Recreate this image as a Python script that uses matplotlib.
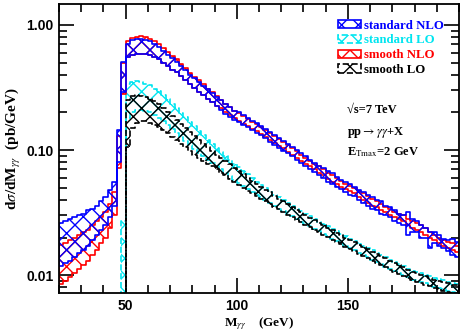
import numpy as np
import matplotlib
matplotlib.use("Agg")
import matplotlib.pyplot as plt
from matplotlib.patches import Patch
from matplotlib.ticker import FixedLocator, NullFormatter, LogLocator

plt.rcParams['hatch.linewidth'] = 1.0
plt.rcParams['mathtext.fontset'] = 'stix'

# ---- data: 2 GeV bins from 20 to 200 GeV ----
bin_edges = np.arange(20, 202, 2)

std_nlo_hi = [0.026, 0.027, 0.028, 0.029, 0.030, 0.031, 0.033, 0.034, 0.036, 0.039, 0.042, 0.048, 0.056, 0.145,
              0.51,
              0.70, 0.76, 0.77, 0.77, 0.76, 0.74, 0.71, 0.67, 0.62, 0.58, 0.54, 0.51, 0.47, 0.44, 0.40,
              0.375, 0.35, 0.325, 0.305, 0.285, 0.265, 0.25, 0.235, 0.22, 0.205, 0.20, 0.19, 0.18, 0.172, 0.165,
              0.156, 0.147, 0.139, 0.132, 0.124, 0.118, 0.111, 0.105, 0.10, 0.094, 0.089, 0.084, 0.079, 0.075, 0.072,
              0.068, 0.065, 0.061, 0.058, 0.056, 0.054, 0.051, 0.048, 0.046, 0.044, 0.042, 0.040, 0.039, 0.036, 0.035,
              0.033, 0.031, 0.030, 0.032, 0.028, 0.027, 0.025, 0.024, 0.022, 0.022, 0.021, 0.0195, 0.019, 0.0195, 0.0185]
std_nlo_lo = [0.0118, 0.0125, 0.013, 0.014, 0.015, 0.016, 0.017, 0.019, 0.021, 0.023, 0.025, 0.029, 0.036, 0.080,
              0.29,
              0.55, 0.58, 0.59, 0.59, 0.585, 0.57, 0.55, 0.53, 0.50, 0.47, 0.44, 0.42, 0.39, 0.36, 0.34,
              0.315, 0.29, 0.275, 0.255, 0.24, 0.225, 0.21, 0.195, 0.185, 0.175, 0.168, 0.16, 0.152, 0.145, 0.138,
              0.131, 0.125, 0.117, 0.11, 0.104, 0.098, 0.094, 0.089, 0.084, 0.079, 0.074, 0.071, 0.067, 0.063, 0.060,
              0.056, 0.054, 0.051, 0.049, 0.046, 0.044, 0.043, 0.040, 0.038, 0.036, 0.034, 0.033, 0.031, 0.030, 0.029,
              0.027, 0.026, 0.025, 0.021, 0.022, 0.022, 0.020, 0.020, 0.0165, 0.018, 0.017, 0.0165, 0.0155, 0.0145, 0.014]

smooth_nlo_hi = [0.0175, 0.018, 0.019, 0.020, 0.021, 0.022, 0.023, 0.025, 0.027, 0.029, 0.032, 0.037, 0.046, 0.130,
                 0.50,
                 0.74, 0.79, 0.80, 0.81, 0.80, 0.77, 0.74, 0.70, 0.65, 0.61, 0.56, 0.53, 0.49, 0.455, 0.415,
                 0.385, 0.36, 0.335, 0.31, 0.29, 0.27, 0.25, 0.235, 0.22, 0.205, 0.196, 0.186, 0.177, 0.168, 0.161,
                 0.152, 0.144, 0.136, 0.129, 0.122, 0.115, 0.109, 0.103, 0.098, 0.092, 0.087, 0.082, 0.078, 0.074, 0.070,
                 0.066, 0.063, 0.060, 0.057, 0.054, 0.052, 0.050, 0.047, 0.045, 0.043, 0.041, 0.039, 0.037, 0.035, 0.034,
                 0.032, 0.031, 0.030, 0.028, 0.027, 0.026, 0.025, 0.024, 0.022, 0.021, 0.020, 0.019, 0.0185, 0.018, 0.017]
smooth_nlo_lo = [0.0085, 0.009, 0.0097, 0.0105, 0.0113, 0.012, 0.013, 0.0145, 0.016, 0.018, 0.020, 0.024, 0.030, 0.072,
                 0.28,
                 0.55, 0.58, 0.59, 0.59, 0.585, 0.57, 0.55, 0.53, 0.50, 0.47, 0.44, 0.42, 0.39, 0.36, 0.34,
                 0.315, 0.29, 0.275, 0.255, 0.24, 0.225, 0.215, 0.20, 0.19, 0.18, 0.172, 0.163, 0.155, 0.148, 0.141,
                 0.134, 0.127, 0.12, 0.114, 0.108, 0.103, 0.097, 0.092, 0.087, 0.082, 0.078, 0.074, 0.070, 0.066, 0.063,
                 0.059, 0.056, 0.054, 0.051, 0.049, 0.047, 0.045, 0.042, 0.040, 0.038, 0.036, 0.035, 0.033, 0.032, 0.030,
                 0.029, 0.028, 0.027, 0.025, 0.024, 0.023, 0.022, 0.021, 0.020, 0.019, 0.018, 0.0172, 0.0165, 0.016, 0.0152]

std_lo_hi = [1e-4] * 14 + [0.027,
             0.34, 0.35, 0.355, 0.35, 0.34, 0.33, 0.31, 0.295, 0.275, 0.255, 0.235, 0.215, 0.198, 0.183, 0.168,
             0.155, 0.142, 0.131, 0.121, 0.112, 0.104, 0.097, 0.090, 0.084, 0.078, 0.073, 0.068, 0.064, 0.060, 0.056,
             0.053, 0.050, 0.047, 0.044, 0.042, 0.040, 0.038, 0.036, 0.034, 0.0325, 0.031, 0.0295, 0.028, 0.0268, 0.0256,
             0.0245, 0.0234, 0.0224, 0.0214, 0.0205, 0.0196, 0.0188, 0.018, 0.0172, 0.0165, 0.0158, 0.0151, 0.0145, 0.0139,
             0.0133, 0.0128, 0.0123, 0.0118, 0.0113, 0.0109, 0.0107, 0.0104, 0.0101, 0.0098, 0.0095, 0.0093, 0.0091, 0.0089,
             0.0087, 0.0085]
std_lo_lo = [1e-4] * 14 + [0.004,
             0.18, 0.20, 0.21, 0.21, 0.205, 0.20, 0.19, 0.18, 0.17, 0.158, 0.147, 0.137, 0.127, 0.118, 0.110,
             0.102, 0.095, 0.089, 0.084, 0.079, 0.074, 0.070, 0.066, 0.062, 0.058, 0.055, 0.052, 0.049, 0.046, 0.044,
             0.042, 0.040, 0.038, 0.036, 0.034, 0.0325, 0.031, 0.0295, 0.028, 0.0268, 0.0256, 0.0245, 0.0234, 0.0224, 0.0214,
             0.0205, 0.0196, 0.0188, 0.018, 0.0172, 0.0165, 0.0158, 0.0151, 0.0145, 0.0139, 0.0133, 0.0128, 0.0122, 0.0117,
             0.0112, 0.0108, 0.0104, 0.0100, 0.0096, 0.0092, 0.0091, 0.0089, 0.0086, 0.0083, 0.0081, 0.0079, 0.0077, 0.0075,
             0.0074, 0.0072]

smooth_lo_hi = [1e-4] * 15 + [
             0.25, 0.27, 0.275, 0.27, 0.265, 0.255, 0.245, 0.232, 0.218, 0.203, 0.188, 0.175, 0.162, 0.15, 0.139,
             0.129, 0.12, 0.112, 0.105, 0.098, 0.092, 0.087, 0.082, 0.077, 0.072, 0.068, 0.064, 0.060, 0.057, 0.054,
             0.051, 0.048, 0.046, 0.043, 0.041, 0.039, 0.037, 0.035, 0.0333, 0.0318, 0.0303, 0.0289, 0.0276, 0.0263, 0.0251,
             0.024, 0.0229, 0.0219, 0.0209, 0.020, 0.0191, 0.0183, 0.0175, 0.0168, 0.0161, 0.0154, 0.0148, 0.0142, 0.0136,
             0.0131, 0.0126, 0.0121, 0.0116, 0.0111, 0.0107, 0.0104, 0.0101, 0.0098, 0.0095, 0.0092, 0.0090, 0.0088, 0.0086,
             0.0084, 0.0083]
smooth_lo_lo = [1e-4] * 15 + [
             0.106, 0.15, 0.165, 0.17, 0.17, 0.165, 0.16, 0.152, 0.145, 0.137, 0.128, 0.12, 0.112, 0.105, 0.098,
             0.092, 0.087, 0.082, 0.078, 0.074, 0.070, 0.066, 0.063, 0.059, 0.056, 0.053, 0.050, 0.047, 0.045, 0.043,
             0.041, 0.039, 0.037, 0.035, 0.0335, 0.032, 0.0305, 0.029, 0.0277, 0.0264, 0.0252, 0.0241, 0.023, 0.022, 0.021,
             0.0201, 0.0192, 0.0184, 0.0176, 0.0169, 0.0162, 0.0155, 0.0149, 0.0143, 0.0137, 0.0131, 0.0126, 0.0121, 0.0116,
             0.0111, 0.0107, 0.0103, 0.0099, 0.0095, 0.0092, 0.0089, 0.0087, 0.0084, 0.0082, 0.0079, 0.0077, 0.0075, 0.0073,
             0.0072, 0.0070]

labels = ['standard NLO', 'standard LO', 'smooth NLO', 'smooth LO']
colors = ['#0000ff', '#00e5f0', '#ff0000', '#000000']
styles = ['-', '--', '-', '--']

series = [(std_nlo_lo, std_nlo_hi), (std_lo_lo, std_lo_hi),
          (smooth_nlo_lo, smooth_nlo_hi), (smooth_lo_lo, smooth_lo_hi)]
draw_order = [1, 3, 2, 0]

fig = plt.figure(figsize=(4.63, 3.33), dpi=100)
ax = fig.add_axes([0.1274, 0.12, 0.864, 0.868])

for k in draw_order:
    lo, hi = series[k]
    lo = np.append(lo, lo[-1])
    hi = np.append(hi, hi[-1])
    ax.fill_between(bin_edges, lo, hi, step='post', facecolor='none',
                    edgecolor=colors[k], hatch='xx', linewidth=1.2,
                    linestyle=styles[k], zorder=2)

ax.set_yscale('log')
ax.set_xlim(20, 200)
ax.set_ylim(0.0072, 1.47)

ax.xaxis.set_major_locator(FixedLocator([50, 100, 150]))
ax.xaxis.set_minor_locator(FixedLocator(np.arange(20, 201, 10)))
ax.set_xticklabels(['50', '100', '150'])
ax.yaxis.set_major_locator(FixedLocator([0.01, 0.1, 1.0]))
ax.yaxis.set_minor_locator(LogLocator(base=10, subs=np.arange(2, 10)))
ax.yaxis.set_minor_formatter(NullFormatter())
ax.set_yticklabels(['0.01', '0.10', '1.00'])

ax.tick_params(which='both', direction='in', top=True, right=True, width=1.2, colors='black')
ax.tick_params(which='major', length=11, labelsize=10, pad=4)
ax.tick_params(which='minor', length=5.5)
for lab in ax.get_xticklabels() + ax.get_yticklabels():
    lab.set_fontweight('bold')
    lab.set_family('Liberation Sans')
for sp in ax.spines.values():
    sp.set_linewidth(1.3)

ax.set_xlabel(r'M$_{\gamma\gamma}$    (GeV)', family='Liberation Serif', fontsize=9.5, fontweight='bold', labelpad=2)
ax.set_ylabel(r'd$\sigma$/dM$_{\gamma\gamma}$  (pb/GeV)', family='Liberation Serif', fontsize=11,
              fontweight='bold', labelpad=2)

handles = [Patch(facecolor='none', edgecolor=c, hatch='xx', linestyle=s, linewidth=1.2)
           for c, s in zip(colors, styles)]
leg = ax.legend(handles, labels, loc='upper left', bbox_to_anchor=(0.69, 0.955), frameon=False,
                prop={'family': 'Liberation Serif', 'weight': 'bold', 'size': 9.2},
                handlelength=1.8, handleheight=0.6, handletextpad=0.25, labelspacing=0.22,
                borderaxespad=0.0, borderpad=0.2)
for t, c in zip(leg.get_texts(), colors):
    t.set_color(c)

tx = dict(transform=ax.transAxes, family=['Liberation Serif', 'DejaVu Serif'], fontsize=9,
          fontweight='bold', ha='left', va='center')
ax.text(0.72, 0.633, '\u221as=7 TeV', **tx)
ax.text(0.72, 0.554, r'pp$\rightarrow\gamma\gamma$+X', **tx)
ax.text(0.72, 0.488, r'E$_{\mathrm{Tmax}}$=2 GeV', **tx)

fig.savefig('out.png', dpi=100)
